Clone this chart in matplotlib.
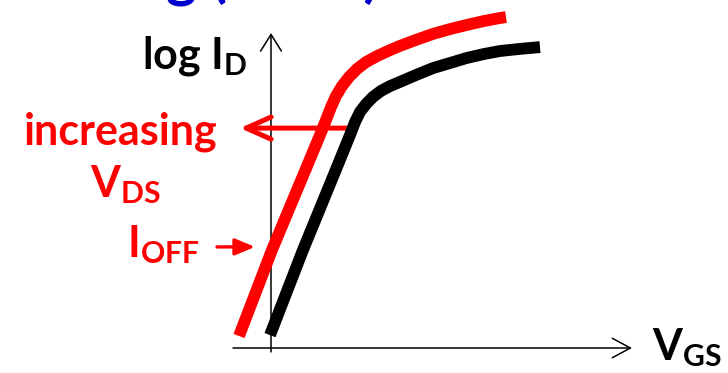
import matplotlib
matplotlib.use("Agg")
import matplotlib.pyplot as plt
from matplotlib.patches import FancyArrowPatch

plt.rcParams['font.family'] = ['Lato', 'DejaVu Sans']
plt.rcParams['font.weight'] = 'bold'
plt.rcParams['mathtext.fontset'] = 'custom'
plt.rcParams['mathtext.rm'] = 'Lato:bold'
plt.rcParams['mathtext.it'] = 'Lato:bold'
plt.rcParams['mathtext.bf'] = 'Lato:bold'

# transfer curves: V_GS (V) vs log I_D (decades above the axis)
vgs_high = [-0.128, 0.004, 0.136, 0.196, 0.220, 0.240, 0.260, 0.284, 0.312,
            0.344, 0.380, 0.424, 0.468, 0.516, 0.580, 0.648, 0.716, 0.784,
            0.852, 0.916, 0.940]
logid_high = [0.40, 3.27, 5.90, 7.10, 7.60, 8.03, 8.40, 8.73, 9.03,
              9.30, 9.53, 9.73, 9.90, 10.07, 10.27, 10.47, 10.63, 10.77,
              10.90, 11.00, 11.03]

vgs_low = [-0.004, 0.128, 0.256, 0.316, 0.336, 0.356, 0.380, 0.408, 0.440,
           0.476, 0.516, 0.580, 0.648, 0.716, 0.784, 0.852, 0.916, 0.996,
           1.076]
logid_low = [0.43, 3.27, 5.87, 7.10, 7.53, 7.87, 8.13, 8.37, 8.57,
             8.73, 8.87, 9.10, 9.33, 9.50, 9.67, 9.80, 9.90, 9.97,
             10.03]

# arrow showing the shift with V_DS, and the I_OFF pointer
shift_from = (0.316, 7.33)
shift_to = (-0.124, 7.33)
ioff_from = (-0.216, 3.37)
ioff_to = (-0.064, 3.37)

fig = plt.figure(figsize=(7.28, 3.73), dpi=100)
ax = fig.add_axes([0, 0, 1, 1])
ax.set_xlim(-1.084, 1.828)
ax.set_ylim(-0.833, 11.6)
ax.axis('off')


def arrow(p0, p1, style, color, lw):
    ax.add_patch(FancyArrowPatch(p0, p1, arrowstyle=style, color=color, lw=lw,
                                 mutation_scale=1, shrinkA=0, shrinkB=0,
                                 capstyle='round', joinstyle='round', zorder=2))


# axes with open arrow heads
arrow((0, -0.13), (0, 10.5), '->,head_length=12,head_width=7.5', 'black', 1.1)
arrow((-0.152, 0), (1.444, 0), '->,head_length=13,head_width=7', 'black', 1.1)

ax.plot(vgs_low, logid_low, color='black', lw=8.5,
        solid_capstyle='butt', solid_joinstyle='round', zorder=3)
ax.plot(vgs_high, logid_high, color='red', lw=8.5,
        solid_capstyle='butt', solid_joinstyle='round', zorder=3)

arrow(shift_from, shift_to, '->,head_length=18,head_width=8', 'red', 3.6)
arrow(ioff_from, ioff_to, '-|>,head_length=12,head_width=5', 'red', 2.4)

ax.text(-0.516, 9.33, r'log I$_\mathrm{D}$', fontsize=31, color='black',
        ha='left', va='baseline')
ax.text(1.524, -0.40, r'V$_\mathrm{GS}$', fontsize=31, color='black',
        ha='left', va='baseline')
ax.text(-0.212, 6.77, 'increasing', fontsize=31, color='red',
        ha='right', va='baseline')
ax.text(-0.584, 5.03, r'V$_\mathrm{DS}$', fontsize=31, color='red',
        ha='center', va='baseline')
ax.text(-0.284, 3.03, r'I$_\mathrm{OFF}$', fontsize=31, color='red',
        ha='right', va='baseline')

# slide title, mostly above the top edge
fig.text(118 / 728, 1.0 + 5 / 373, 'log ( IDS  )', fontsize=42, color='#0000CC',
         ha='left', va='baseline')

fig.savefig('out.png', dpi=100)
